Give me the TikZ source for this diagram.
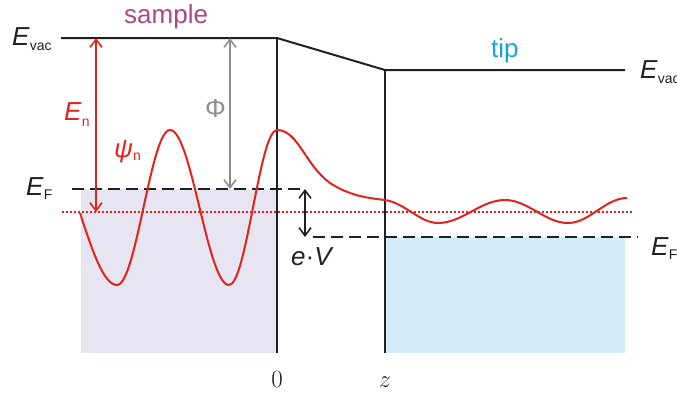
\documentclass[tikz,border=0pt]{standalone}
\usepackage{fontspec}
\setmainfont{Liberation Sans}
\usetikzlibrary{arrows.meta}
\definecolor{cred}{HTML}{E2231A}
\definecolor{cgray}{HTML}{8E8E8E}
\definecolor{cblack}{HTML}{231F20}
\definecolor{csample}{HTML}{A8488A}
\definecolor{ctip}{HTML}{1BA1DD}
\definecolor{clav}{HTML}{E7E5F2}
\definecolor{cblue}{HTML}{D3ECF9}
\newcommand\Elab[2]{\textit{E}\raisebox{-#2}{\fontsize{14}{14}\selectfont #1}}
\tikzset{
  level/.style={draw=cblack, line width=2pt},
  dashlevel/.style={draw=cblack, line width=2pt, dash pattern=on 12pt off 6pt},
  dotlevel/.style={draw=cred, line width=1.6pt, dash pattern=on 2pt off 2pt},
  wave/.style={draw=cred, line width=2pt},
  dimarrow/.style={line width=1.6pt, {Straight Barb[length=8pt,width=12pt]}-{Straight Barb[length=8pt,width=12pt]}},
  lab/.style={inner sep=0pt, anchor=base west, font=\fontsize{26}{26}\selectfont},
}
\begin{document}
\begin{tikzpicture}[x=1pt,y=-1pt]
\useasboundingbox (0,0) rectangle (677,392);
% fills
\fill[clav] (81,189) rectangle (277,353);
\fill[cblue] (385,237) rectangle (625,353);
% vacuum levels and walls
\coordinate (sv0) at (61,38);
\coordinate (sv1) at (277,38);
\coordinate (tv0) at (385,70);
\coordinate (tv1) at (625,70);
\coordinate (sb) at (277,353);
\coordinate (tb) at (385,353);
\draw[level, line join=miter] (sv0) -- (sv1) -- (tv0) -- (tv1);
\draw[level] (sv1) -- (sb);
\draw[level] (tv0) -- (tb);
% Fermi levels
\coordinate (sf0) at (72,189);
\coordinate (sf1) at (305,189);
\coordinate (tf0) at (313,237);
\coordinate (tf1) at (638,237);
\draw[dashlevel] (sf0) -- (sf1);
\draw[dashlevel] (tf0) -- (tf1);
% energy level
\coordinate (en0) at (62,212);
\coordinate (en1) at (633,212);
\draw[dotlevel] (en0) -- (en1);
% wave function
\draw[wave] (80,213) sin (117,285) cos (143.5,207.5) sin (170,130) cos (199.5,207.5) sin (229,285) cos (253,207.5) sin (277,130)
  .. controls (298,130) and (305,165) .. (330,183)
  .. controls (350,196) and (368,198) .. (385,200)
  .. controls (405,203) and (420,223) .. (438,223)
  cos (471.5,211.5) sin (505,200) cos (536.5,211.5) sin (568,223) cos (597.5,210.5) sin (627,198);
% arrows
\coordinate (ena) at (96,38);
\coordinate (enb) at (96,212);
\draw[dimarrow, cred] (ena) -- (enb);
\coordinate (phia) at (230,38);
\coordinate (phib) at (230,189);
\draw[dimarrow, cgray] (phia) -- (phib);
\coordinate (eva) at (305,189);
\coordinate (evb) at (305,237);
\draw[dimarrow, cblack] (eva) -- (evb);
% labels
\node[lab, text=csample] (sample) at (124,23) {sample};
\node[lab, text=ctip] (tip) at (491,57) {tip};
\node[lab, text=cblack] (evl) at (12,45) {\Elab{vac}{5pt}};
\node[lab, text=cblack] (evr) at (640,78) {\Elab{vac}{5pt}};
\node[lab, text=cblack] (efl) at (26,195) {\Elab{F}{4pt}};
\node[lab, text=cblack] (efr) at (651,255) {\Elab{F}{4pt}};
\node[lab, text=cred] (enl) at (64,120) {\Elab{n}{6pt}};
\node[lab, text=cred] (psil) at (114,157) {\textit{ψ}\raisebox{-3pt}{\fontsize{14}{14}\selectfont n}};
\node[lab, text=cgray] (phil) at (205,117) {Φ};
\node[lab, text=cblack] (evlab) at (291,265) {\textit{e}·\textit{V}};
\node[inner sep=0pt, anchor=base, font=\fontsize{25}{25}\selectfont, text=cblack] (zero) at (277,387) {$0$};
\node[inner sep=0pt, anchor=base, font=\fontsize{25}{25}\selectfont, text=cblack] (zlab) at (385,387) {$z$};
\end{tikzpicture}
\end{document}
